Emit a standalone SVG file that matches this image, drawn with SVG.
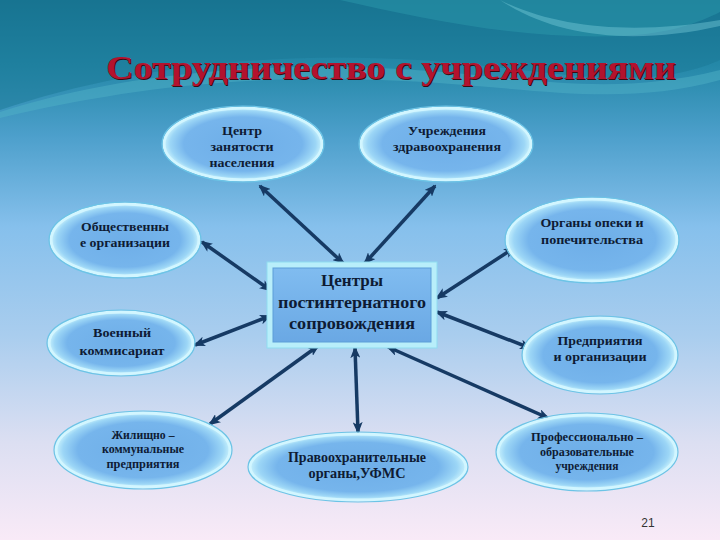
<svg xmlns="http://www.w3.org/2000/svg" width="720" height="540" viewBox="0 0 720 540">
<defs>
<linearGradient id="bg" x1="0" y1="0" x2="0" y2="1">
<stop offset="0" stop-color="#15708c"/>
<stop offset="0.12" stop-color="#2488a8"/>
<stop offset="0.25" stop-color="#4c9fcb"/>
<stop offset="0.42" stop-color="#86c0ec"/>
<stop offset="0.62" stop-color="#a9cdee"/>
<stop offset="0.82" stop-color="#dcdff2"/>
<stop offset="1" stop-color="#f9eaf7"/>
</linearGradient>
<radialGradient id="ell" cx="0.5" cy="0.5" r="0.5">
<stop offset="0" stop-color="#6eaee8"/>
<stop offset="0.75" stop-color="#76b5ec"/>
<stop offset="0.92" stop-color="#9cd6f6"/>
<stop offset="1" stop-color="#c6f0fc"/>
</radialGradient>
<linearGradient id="boxg" x1="0" y1="0" x2="0" y2="1">
<stop offset="0" stop-color="#80bcf0"/>
<stop offset="1" stop-color="#6aa8e4"/>
</linearGradient>
<marker id="ah" viewBox="0 0 12 10" refX="10" refY="5" markerWidth="12" markerHeight="10" markerUnits="userSpaceOnUse" orient="auto-start-reverse">
<path d="M0,0 L12,5 L0,10 L3,5 Z" fill="#163a64"/>
</marker>
</defs>
<style>
.el{fill:url(#ell);stroke:#d2f6ff;stroke-width:3}
.rim{fill:none;stroke:#6cc4e6;stroke-width:1.2}
.t{font-family:"Liberation Serif","Times New Roman",serif;font-weight:bold;fill:#0e1b34;text-anchor:middle}
.c{stroke:#163a64;stroke-width:3.5;fill:none;marker-start:url(#ah);marker-end:url(#ah)}
</style>
<rect width="720" height="540" fill="url(#bg)"/>
<g id="waves">
<path d="M0,110 C120,70 260,50 420,60 C560,70 640,95 720,60 L720,0 L0,0 Z" fill="#1a7896" opacity="0.5"/>
<path d="M0,112 C100,80 230,62 380,68 C520,74 600,100 720,70 L720,80 C610,110 520,84 380,80 C230,74 110,92 0,118 Z" fill="#52b4c8" opacity="0.45"/>
<path d="M340,0 C420,18 520,40 620,36 C670,34 700,22 720,12 L720,0 Z" fill="#2a96aa" opacity="0.55"/>
<path d="M500,0 C560,30 640,34 720,20 L720,26 C640,44 560,40 500,0 Z" fill="#7fd2de" opacity="0.4"/>
</g>
<g id="title">
<text x="392" y="80" font-family="Liberation Serif,Times New Roman,serif" font-weight="bold" font-size="33" fill="#3a0a10" text-anchor="middle" textLength="570" lengthAdjust="spacingAndGlyphs">Сотрудничество с учреждениями</text>
<text x="391" y="79" font-family="Liberation Serif,Times New Roman,serif" font-weight="bold" font-size="33" fill="#b3122e" text-anchor="middle" textLength="570" lengthAdjust="spacingAndGlyphs">Сотрудничество с учреждениями</text>
</g>
<g id="connectors">
<line class="c" x1="260" y1="186" x2="343" y2="263"/>
<line class="c" x1="435" y1="186" x2="365" y2="263"/>
<line class="c" x1="202" y1="242" x2="270" y2="290"/>
<line class="c" x1="437" y1="298" x2="514" y2="248"/>
<line class="c" x1="195" y1="345" x2="270" y2="316"/>
<line class="c" x1="437" y1="312" x2="530" y2="348"/>
<line class="c" x1="210" y1="424" x2="318" y2="346"/>
<line class="c" x1="355" y1="348" x2="358" y2="432"/>
<line class="c" x1="388" y1="347" x2="548" y2="418"/>
</g>
<g id="center">
<rect x="267" y="262" width="170" height="86" fill="#b8eefa" stroke="#90dcf0" stroke-width="1"/>
<rect x="273" y="268" width="158" height="74" fill="url(#boxg)" stroke="#5c9ed8" stroke-width="1"/>
<text class="t" x="352" y="286" font-size="17" textLength="62" lengthAdjust="spacingAndGlyphs">Центры</text>
<text class="t" x="352" y="308" font-size="17" textLength="148" lengthAdjust="spacingAndGlyphs">постинтернатного</text>
<text class="t" x="352" y="329" font-size="17" textLength="126" lengthAdjust="spacingAndGlyphs">сопровождения</text>
</g>
<g id="n-zanyatost">
<ellipse class="el" cx="243" cy="144" rx="79" ry="36"/>
<ellipse class="rim" cx="243" cy="144" rx="81" ry="38"/>
<text class="t" x="242" y="135" font-size="13" textLength="40" lengthAdjust="spacingAndGlyphs">Центр</text>
<text class="t" x="242" y="151" font-size="13" textLength="63" lengthAdjust="spacingAndGlyphs">занятости</text>
<text class="t" x="242" y="167" font-size="13" textLength="65" lengthAdjust="spacingAndGlyphs">населения</text>
</g>
<g id="n-zdrav">
<ellipse class="el" cx="446" cy="144" rx="85" ry="36"/>
<ellipse class="rim" cx="446" cy="144" rx="87" ry="38"/>
<text class="t" x="447" y="135" font-size="13" textLength="78" lengthAdjust="spacingAndGlyphs">Учреждения</text>
<text class="t" x="447" y="151" font-size="13" textLength="108" lengthAdjust="spacingAndGlyphs">здравоохранения</text>
</g>
<g id="n-obsch">
<ellipse class="el" cx="125" cy="240" rx="74" ry="36"/>
<ellipse class="rim" cx="125" cy="240" rx="76" ry="38"/>
<text class="t" x="125" y="231" font-size="13" textLength="88" lengthAdjust="spacingAndGlyphs">Общественны</text>
<text class="t" x="125" y="247" font-size="13" textLength="90" lengthAdjust="spacingAndGlyphs">е организации</text>
</g>
<g id="n-opeka">
<ellipse class="el" cx="592" cy="240" rx="85" ry="41"/>
<ellipse class="rim" cx="592" cy="240" rx="87" ry="43"/>
<text class="t" x="592" y="227" font-size="13" textLength="103" lengthAdjust="spacingAndGlyphs">Органы опеки и</text>
<text class="t" x="592" y="244" font-size="13" textLength="102" lengthAdjust="spacingAndGlyphs">попечительства</text>
</g>
<g id="n-voen">
<ellipse class="el" cx="121" cy="343" rx="72" ry="31"/>
<ellipse class="rim" cx="121" cy="343" rx="74" ry="33"/>
<text class="t" x="122" y="337" font-size="13" textLength="58" lengthAdjust="spacingAndGlyphs">Военный</text>
<text class="t" x="122" y="355" font-size="13" textLength="85" lengthAdjust="spacingAndGlyphs">коммисариат</text>
</g>
<g id="n-predpr">
<ellipse class="el" cx="600" cy="355" rx="76" ry="37"/>
<ellipse class="rim" cx="600" cy="355" rx="78" ry="39"/>
<text class="t" x="600" y="345" font-size="13" textLength="85" lengthAdjust="spacingAndGlyphs">Предприятия</text>
<text class="t" x="600" y="361" font-size="13" textLength="93" lengthAdjust="spacingAndGlyphs">и организации</text>
</g>
<g id="n-zhil">
<ellipse class="el" cx="143" cy="450" rx="87" ry="37"/>
<ellipse class="rim" cx="143" cy="450" rx="89" ry="39"/>
<text class="t" x="143" y="439" font-size="11.5" textLength="63" lengthAdjust="spacingAndGlyphs">Жилищно –</text>
<text class="t" x="143" y="453" font-size="11.5" textLength="82" lengthAdjust="spacingAndGlyphs">коммунальные</text>
<text class="t" x="143" y="468" font-size="11.5" textLength="73" lengthAdjust="spacingAndGlyphs">предприятия</text>
</g>
<g id="n-pravo">
<ellipse class="el" cx="358" cy="467" rx="108" ry="33"/>
<ellipse class="rim" cx="358" cy="467" rx="110" ry="35"/>
<text class="t" x="357" y="462" font-size="14" textLength="138" lengthAdjust="spacingAndGlyphs">Правоохранительные</text>
<text class="t" x="357" y="478" font-size="14" textLength="97" lengthAdjust="spacingAndGlyphs">органы,УФМС</text>
</g>
<g id="n-prof">
<ellipse class="el" cx="587" cy="452" rx="89" ry="37"/>
<ellipse class="rim" cx="587" cy="452" rx="91" ry="39"/>
<text class="t" x="587" y="441" font-size="11.5" textLength="112" lengthAdjust="spacingAndGlyphs">Профессионально –</text>
<text class="t" x="587" y="456" font-size="11.5" textLength="94" lengthAdjust="spacingAndGlyphs">образовательные</text>
<text class="t" x="587" y="470" font-size="11.5" textLength="63" lengthAdjust="spacingAndGlyphs">учреждения</text>
</g>
<text x="648" y="527" font-family="Liberation Sans,Arial,sans-serif" font-size="12" fill="#333" text-anchor="middle">21</text>
</svg>
